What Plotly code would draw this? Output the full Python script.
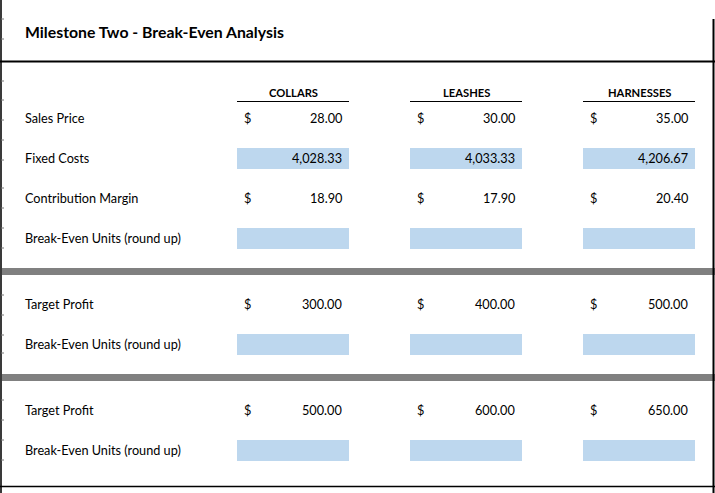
import plotly.graph_objects as go

# ---------------- data ----------------
title = "Milestone Two - Break-Even Analysis"
products = ["COLLARS", "LEASHES", "HARNESSES"]
sales_price = [28.00, 30.00, 35.00]
fixed_costs = [4028.33, 4033.33, 4206.67]
contribution_margin = [18.90, 17.90, 20.40]
target_profit_1 = [300.00, 400.00, 500.00]
target_profit_2 = [500.00, 600.00, 650.00]
row_labels = ["Sales Price", "Fixed Costs", "Contribution Margin", "Break-Even Units (round up)",
              "Target Profit", "Break-Even Units (round up)",
              "Target Profit", "Break-Even Units (round up)"]

# ---------------- layout constants ----------------
W, H = 715, 493
FONT = "Lato, Carlito, Calibri, sans-serif"
BLUE = "#BDD7EE"
GRAY = "#808080"
BODY = 12.7
col_left = [237, 410, 583]
col_w = 112
row_y = [118, 158, 198, 238, 304, 344, 410, 450]
row_kind = ["dollar", "blue", "dollar", "empty", "dollar", "empty", "dollar", "empty"]
row_vals = [sales_price, fixed_costs, contribution_margin, None,
            target_profit_1, None, target_profit_2, None]

shapes = []
annotations = []

def line(x0, y0, x1, y1, color="black", width=1):
    shapes.append(dict(type="line", xref="x", yref="y", x0=x0, y0=y0, x1=x1, y1=y1,
                       line=dict(color=color, width=width), layer="above"))

def rect(x0, y0, x1, y1, color):
    shapes.append(dict(type="rect", xref="x", yref="y", x0=x0, y0=y0, x1=x1, y1=y1,
                       fillcolor=color, line=dict(width=0), layer="below"))

def text(x, y, s, anchor="left", size=BODY, bold=False):
    annotations.append(dict(x=x, y=y, xref="x", yref="y", text=f"<b>{s}</b>" if bold else s,
                            showarrow=False, xanchor=anchor, yanchor="middle",
                            font=dict(family=FONT, size=size, color="black")))

# borders
line(1, 0, 1, H, color="#3a3a3a", width=2)
for ty in [19, 39, 81, 100, 120, 140, 160, 188, 208, 228, 248, 295, 315, 335, 353, 400, 420, 440, 460]:
    line(1, ty, 4, ty, color="#777777", width=1)
line(713.5, 19, 713.5, H, color="black", width=2)
line(0, 61.5, W, 61.5, color="black", width=2)
line(0, 486.5, W, 486.5, color="black", width=1.5)

# gray separator bands
rect(0, 268, W, 275, GRAY)
rect(0, 374, W, 381, GRAY)

# title
text(23, 31.5, title, size=15.8, bold=True)

# headers
for p, cl in zip(products, col_left):
    text(cl + col_w / 2, 92, p, anchor="center", size=11.2, bold=True)
    line(cl, 101.5, cl + col_w, 101.5, color="black", width=1)

# rows
for lab, y, kind, vals in zip(row_labels, row_y, row_kind, row_vals):
    text(23, y, lab)
    for i, cl in enumerate(col_left):
        if kind in ("blue", "empty"):
            rect(cl, y - 10, cl + col_w, y + 11, BLUE)
        if kind == "dollar":
            text(cl + 10, y, "$", anchor="center")
        if vals is not None:
            text(cl + 107, y, f"{vals[i]:,.2f}", anchor="right")

fig = go.Figure()
fig.add_trace(go.Scatter(x=[0, W], y=[0, H], mode="markers", marker=dict(opacity=0),
                         hoverinfo="skip", showlegend=False))
fig.update_layout(
    width=W, height=H, margin=dict(l=0, r=0, t=0, b=0),
    paper_bgcolor="white", plot_bgcolor="white",
    xaxis=dict(range=[0, W], visible=False, fixedrange=True),
    yaxis=dict(range=[H, 0], visible=False, fixedrange=True),
    shapes=shapes, annotations=annotations, showlegend=False,
)
fig.write_html("out.html", config={"displayModeBar": False},
               post_script="document.body.style.margin='0px';document.body.style.overflow='hidden';")
